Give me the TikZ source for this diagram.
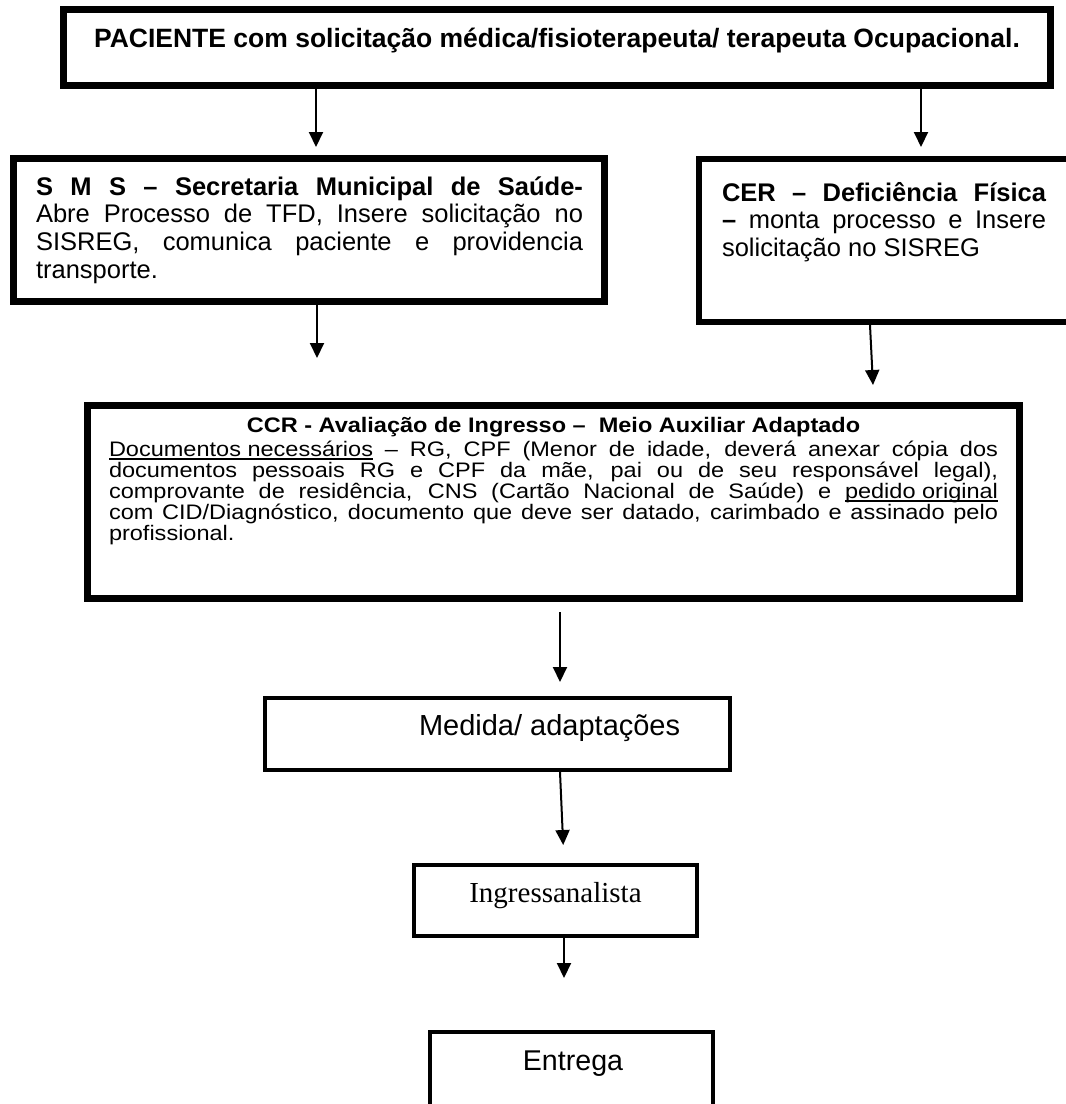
\documentclass[tikz,border=0pt]{standalone}
\usepackage{fontspec}
\setmainfont{Liberation Sans}
\newfontfamily\serifface{Liberation Serif}
\newfontfamily\wideface[FakeStretch=1.12]{Liberation Sans}
\usetikzlibrary{arrows.meta}
% one justified line of fixed width
\newcommand{\jline}[2]{\makebox[#1][s]{#2}}
% underline drawn close under the baseline
\newsavebox{\undlbox}
\newcommand{\undl}[1]{\sbox{\undlbox}{#1}\rlap{\rule[-3.6bp]{\wd\undlbox}{1.3bp}}\usebox{\undlbox}}
\begin{document}
\begin{tikzpicture}[x=1bp,y=-1bp,
  heavybox/.style={draw=black, line width=7bp, rectangle, inner sep=0pt, outer sep=3.5bp},
  midbox/.style={draw=black, line width=6bp, rectangle, inner sep=0pt, outer sep=3bp},
  lightbox/.style={draw=black, line width=4bp, rectangle, inner sep=0pt, outer sep=2bp},
  txt/.style={inner sep=0pt, outer sep=0pt},
  flow/.style={draw=black, line width=2bp, -{Triangle[width=14bp,length=15bp]}}]
\useasboundingbox (0,0) rectangle (1066,1104);
\clip (0,0) rectangle (1066,1104);
\fill[white] (0,0) rectangle (1066,1104);

% ---- boxes ----
\node[heavybox, minimum width=987bp, minimum height=76bp] (pac) at (557,47.5) {};
\node[heavybox, minimum width=591bp, minimum height=143bp] (sms) at (309,230) {};
\node[midbox, minimum width=408bp, minimum height=163bp] (cer) at (903,240.5) {};
\node[heavybox, minimum width=932bp, minimum height=193bp] (ccr) at (553.5,502) {};
\node[lightbox, minimum width=465bp, minimum height=72bp] (med) at (497.5,734) {};
\node[lightbox, minimum width=283bp, minimum height=71bp] (ing) at (555.5,900.5) {};
\node[lightbox, minimum width=283bp, minimum height=100bp] (ent) at (571.5,1082) {};

% ---- texts ----
\node[txt, anchor=base] (pactext) at (557,47)
  {\fontsize{26.5bp}{30bp}\selectfont\bfseries PACIENTE com solicitação médica/fisioterapeuta/ terapeuta Ocupacional.};

\node[txt, anchor=base west] (smstext) at (36,195) {\parbox[t]{547bp}{\fontsize{25.5bp}{27.7bp}\selectfont
  \jline{547bp}{\bfseries S M S – Secretaria Municipal de Saúde-}\\
  \jline{547bp}{Abre Processo de TFD, Insere solicitação no}\\
  \jline{547bp}{SISREG, comunica paciente e providencia}\\
  transporte.}};

\node[txt, anchor=base west] (certext) at (722,201) {\parbox[t]{324bp}{\fontsize{25.5bp}{27.5bp}\selectfont
  \jline{324bp}{\bfseries CER – Deficiência Física}\\
  \jline{324bp}{{\bfseries –} monta processo e Insere}\\
  solicitação no SISREG}};

\node[txt, anchor=base] (ccrtitle) at (553.5,432)
  {\wideface\fontsize{21bp}{21bp}\selectfont\bfseries CCR - Avaliação de Ingresso –\ \ Meio Auxiliar Adaptado};

\node[txt, anchor=base west] (ccrtext) at (109,456) {\parbox[t]{889bp}{\wideface\fontsize{21bp}{21bp}\selectfont
  \jline{889bp}{\undl{Documentos necessários} – RG, CPF (Menor de idade, deverá anexar cópia dos}\\
  \jline{889bp}{documentos pessoais RG e CPF da mãe, pai ou de seu responsável legal),}\\
  \jline{889bp}{comprovante de residência, CNS (Cartão Nacional de Saúde) e \undl{pedido original}}\\
  \jline{889bp}{com CID/Diagnóstico, documento que deve ser datado, carimbado e assinado pelo}\\
  profissional.}};

\node[txt, anchor=base west] (medtext) at (419,735) {\fontsize{29bp}{32bp}\selectfont Medida/ adaptações};
\node[txt, anchor=base] (ingtext) at (555.5,902) {\fontsize{29bp}{32bp}\selectfont\serifface Ingressanalista};
\node[txt, anchor=base] (enttext) at (573,1070) {\fontsize{28.6bp}{32bp}\selectfont Entrega};

% ---- connector columns and free ends ----
\coordinate (xa) at (316,0);
\coordinate (xb) at (921,0);
\coordinate (xc) at (317,0);
\coordinate (xd) at (870,0);
\coordinate (xe) at (560,0);
\coordinate (xf) at (564,0);
\coordinate (smsend) at (317,358);
\coordinate (cerend) at (873,385);
\coordinate (ccrout) at (560,612);
\coordinate (ingend) at (564,978);

% ---- connectors ----
\draw[flow, shorten >=8bp] (pac.south -| xa) -- (sms.north -| xa);
\draw[flow, shorten >=9bp] (pac.south -| xb) -- (cer.north -| xb);
\draw[flow] (sms.south -| xc) -- (smsend);
\draw[flow] (cer.south -| xd) -- (cerend);
\draw[flow, shorten >=14bp] (ccrout) -- (med.north -| xe);
\draw[flow, shorten >=18bp] (med.south -| xe) -- (ing.north -| xf);
\draw[flow] (ing.south -| xf) -- (ingend);
\end{tikzpicture}
\end{document}
